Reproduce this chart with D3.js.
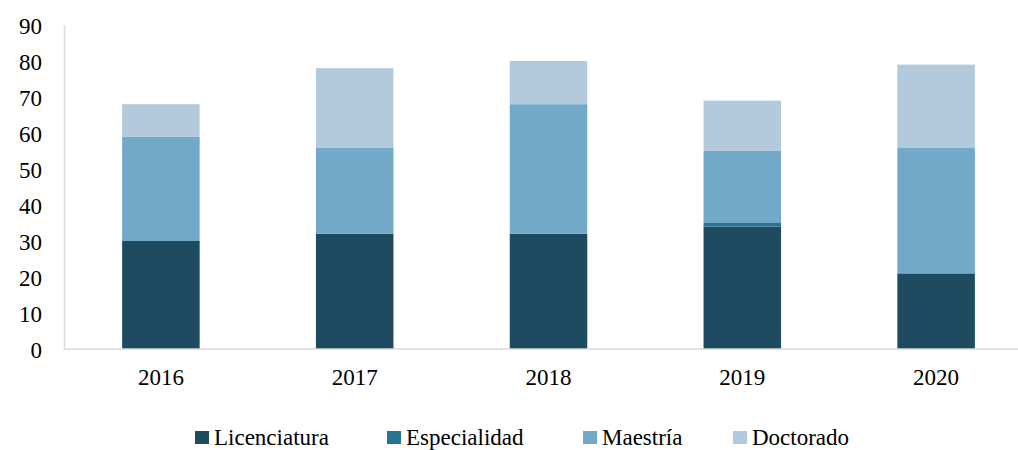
<!DOCTYPE html>
<html>
<head>
<meta charset="utf-8">
<script src="https://cdn.jsdelivr.net/npm/d3@7"></script>
<style>
  body { margin: 0; background: #fff; }
  svg text { fill: #000; }
</style>
</head>
<body>
<div id="chart"></div>
<script>
// Data
const years = ["2016", "2017", "2018", "2019", "2020"];
const seriesNames = ["Licenciatura", "Especialidad", "Maestría", "Doctorado"];
const licenciatura = [30, 32, 32, 34, 21];
const especialidad = [0, 0, 0, 1, 0];
const maestria = [29, 24, 36, 20, 35];
const doctorado = [9, 22, 12, 14, 23];
const yTicks = [0, 10, 20, 30, 40, 50, 60, 70, 80, 90];

const colors = ["#1e4b5f", "#28748f", "#72a9c8", "#b3c9dc"];
const serif = "'Times New Roman', Times, 'Liberation Serif', Tinos, 'Nimbus Roman', 'Noto Serif', FreeSerif, 'DejaVu Serif', serif";

const width = 1018;
const height = 450;

const svg = d3.select("#chart")
  .append("svg")
  .attr("width", width)
  .attr("height", height);

// Build table for stacking
const table = years.map((y, i) => ({
  year: y,
  "Licenciatura": licenciatura[i],
  "Especialidad": especialidad[i],
  "Maestría": maestria[i],
  "Doctorado": doctorado[i]
}));

const stacked = d3.stack().keys(seriesNames)(table);

const x = d3.scaleBand()
  .domain(years)
  .range([64, 1033])
  .paddingInner(0.6)
  .paddingOuter(0.3);

const y = d3.scaleLinear()
  .domain([0, 90])
  .range([349, 25]);

const color = d3.scaleOrdinal().domain(seriesNames).range(colors);

// Bars
svg.append("g")
  .selectAll("g")
  .data(stacked)
  .enter().append("g")
  .attr("fill", d => color(d.key))
  .selectAll("rect")
  .data(d => d)
  .enter().append("rect")
  .attr("x", d => x(d.data.year))
  .attr("width", x.bandwidth())
  .attr("y", d => y(d[1]))
  .attr("height", d => y(d[0]) - y(d[1]));

// Y axis
const yAxis = svg.append("g")
  .attr("transform", "translate(64,0)")
  .call(d3.axisLeft(y).tickValues(yTicks).tickSize(0).tickPadding(22))
  .attr("font-family", serif)
  .attr("font-size", 23);
yAxis.select(".domain").attr("stroke", "#d9d9d9").attr("stroke-width", 1.5);
yAxis.selectAll("text")
  .attr("text-anchor", "end")
  .attr("dy", "0.35em")
  .attr("x", -22);

// X axis
const xAxis = svg.append("g")
  .attr("transform", "translate(0,349)")
  .call(d3.axisBottom(x).tickSize(0).tickPadding(20))
  .attr("font-family", serif)
  .attr("font-size", 23);
xAxis.select(".domain").remove();
xAxis.append("line")
  .attr("x1", 64).attr("x2", width)
  .attr("y1", 0).attr("y2", 0)
  .attr("stroke", "#d9d9d9")
  .attr("stroke-width", 1.5);

// Legend
const legendX = [195, 387, 583, 733];
const legend = svg.append("g")
  .attr("font-family", serif)
  .attr("font-size", 23)
  .selectAll("g")
  .data(seriesNames)
  .enter().append("g")
  .attr("transform", (d, i) => `translate(${legendX[i]},431)`);

legend.append("rect")
  .attr("width", 14)
  .attr("height", 13)
  .attr("fill", d => color(d));

legend.append("text")
  .attr("x", 19)
  .attr("y", 14)
  .text(d => d);
</script>
</body>
</html>
